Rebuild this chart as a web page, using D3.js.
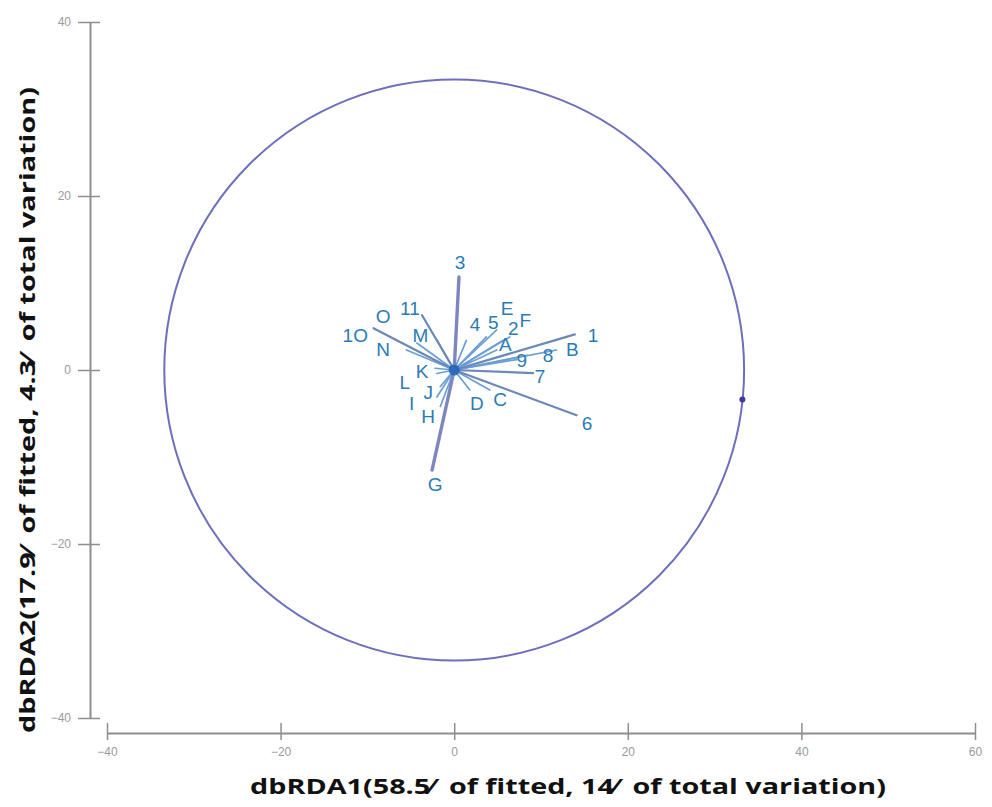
<!DOCTYPE html>
<html>
<head>
<meta charset="utf-8">
<script src="https://cdn.jsdelivr.net/npm/d3@7"></script>
<style>
  html, body { margin: 0; padding: 0; background: #ffffff; }
  svg { display: block; }
  .ttl { white-space: pre; }
</style>
</head>
<body>
<svg id="chart" width="992" height="807"></svg>
<script>
// ---- data ----
const xTicks = [-40, -20, 0, 20, 40, 60];
const yTicks = [-40, -20, 0, 20, 40];
const xTitle = "dbRDA1(58.5\u2044  of fitted, 14\u2044  of total variation)";
const yTitle = "dbRDA2(17.9\u2044  of fitted, 4.3\u2044  of total variation)";

// correlation circle radius (data units) and a marker point on it
const circleRadius = 33.4;
const circleMark = [33.2, -3.4];

// biplot vectors: name, end point (data units), label anchor (data units)
const vecNames = ["3", "G", "6", "7", "1", "1O", "11", "B", "8", "9", "A", "F", "2", "E", "5", "4",
                  "M", "O", "N", "K", "L", "J", "I", "H", "D", "C"];
const vecEndX  = [0.55, -2.55, 14.1, 9.1, 13.9, -9.3, -3.7, 11.8, 8.4, 7.2, 4.9, 6.4, 5.6, 4.9, 3.7, 1.4,
                  -2.0, -4.3, -5.5, -2.2, -2.0, -1.6, -2.0, -1.6, 1.8, 4.1];
const vecEndY  = [10.7, -11.5, -5.2, -0.35, 4.1, 4.8, 6.3, 2.3, 1.7, 1.2, 2.3, 3.8, 3.4, 4.6, 3.8, 3.4,
                  3.5, 3.1, 2.3, 0.2, -0.4, -1.9, -3.1, -4.2, -2.3, -2.3];
const labelX   = [0.67, -2.2, 15.3, 9.9, 16.0, -11.4, -5.1, 13.6, 10.8, 7.8, 5.9, 8.2, 6.8, 6.1, 4.5, 2.4,
                  -3.9, -8.2, -8.2, -3.7, -5.7, -3.0, -4.9, -3.0, 2.6, 5.3];
const labelY   = [12.4, -13.2, -6.1, -0.8, 4.0, 4.0, 7.1, 2.3, 1.7, 1.1, 2.9, 5.7, 4.8, 7.1, 5.5, 5.2,
                  4.0, 6.2, 2.3, -0.2, -1.4, -2.6, -3.8, -5.4, -3.8, -3.4];
// line style group per vector: 0 = heavy, 1 = medium, 2 = light
const vecStyle = [0, 0, 1, 1, 1, 1, 1, 2, 2, 2, 2, 2, 2, 2, 2, 2,
                  2, 2, 2, 2, 2, 2, 2, 2, 2, 2];

// ---- drawing ----
const svg = d3.select("#chart");
const x = d3.scaleLinear().domain([-40, 60]).range([107, 975]);
const y = d3.scaleLinear().domain([-40, 40]).range([718, 22]);

const axisColor = "#8e8e8e";
const tickText = "#9a9a9a";

// Y axis
const yAxisG = svg.append("g").attr("transform", "translate(90,0)")
  .call(d3.axisLeft(y).tickValues(yTicks).tickSizeOuter(0).tickSizeInner(0).tickPadding(19));
yAxisG.select(".domain").attr("stroke", axisColor).attr("stroke-width", 2);
yAxisG.selectAll(".tick line").attr("x1", -12).attr("x2", 10)
  .attr("stroke", axisColor).attr("stroke-width", 1.5);
yAxisG.selectAll(".tick text").attr("fill", tickText)
  .style("font-family", "'Liberation Sans', Arial, sans-serif").style("font-size", "12px");

// X axis
const xAxisG = svg.append("g").attr("transform", "translate(0,733)")
  .call(d3.axisBottom(x).tickValues(xTicks).tickSizeOuter(0).tickSizeInner(0).tickPadding(14));
xAxisG.select(".domain").attr("stroke", axisColor).attr("stroke-width", 2);
xAxisG.selectAll(".tick line").attr("y1", -10).attr("y2", 7)
  .attr("stroke", axisColor).attr("stroke-width", 1.5);
xAxisG.selectAll(".tick text").attr("fill", tickText)
  .style("font-family", "'Liberation Sans', Arial, sans-serif").style("font-size", "12px");

// circle
svg.append("ellipse")
  .attr("cx", x(0)).attr("cy", y(0))
  .attr("rx", x(circleRadius) - x(0))
  .attr("ry", y(0) - y(circleRadius))
  .attr("fill", "none").attr("stroke", "#6e6ebe").attr("stroke-width", 2);
svg.append("circle")
  .attr("cx", x(circleMark[0])).attr("cy", y(circleMark[1]))
  .attr("r", 3).attr("fill", "#3a3a9a");

// vectors
const vecs = vecNames.map((n, i) => ({
  name: n, ex: vecEndX[i], ey: vecEndY[i], lx: labelX[i], ly: labelY[i], s: vecStyle[i]
}));
const lineColor = ["#7e86c2", "#6b88b8", "#6a9fd6"];
const lineWidth = [3.4, 2.2, 1.7];
// draw light first, heavy on top
svg.append("g").selectAll("line")
  .data(vecs.slice().sort((a, b) => b.s - a.s))
  .join("line")
  .attr("x1", x(0)).attr("y1", y(0))
  .attr("x2", d => x(d.ex)).attr("y2", d => y(d.ey))
  .attr("stroke", d => lineColor[d.s])
  .attr("stroke-width", d => lineWidth[d.s])
  .attr("stroke-linecap", "round");

// central blob
svg.append("circle").attr("cx", x(0)).attr("cy", y(0)).attr("r", 5.5).attr("fill", "#2466b8").attr("opacity", 0.9);

svg.append("g").selectAll("text")
  .data(vecs)
  .join("text")
  .attr("x", d => x(d.lx)).attr("y", d => y(d.ly))
  .attr("text-anchor", "middle").attr("dominant-baseline", "central")
  .attr("fill", "#2a7cb5")
  .style("font-family", "'Liberation Sans', Arial, sans-serif")
  .style("font-size", "19px")
  .text(d => d.name);

// titles
svg.append("text")
  .attr("class", "ttl")
  .attr("xml:space", "preserve")
  .attr("x", 568).attr("y", 794)
  .attr("text-anchor", "middle")
  .attr("textLength", 636).attr("lengthAdjust", "spacingAndGlyphs")
  .style("font-family", "'Open Sans', Lato, sans-serif").style("font-weight", "bold")
  .style("font-size", "21px").attr("fill", "#111")
  .text(xTitle);

svg.append("text")
  .attr("class", "ttl")
  .attr("xml:space", "preserve")
  .attr("transform", "translate(35,410) rotate(-90)")
  .attr("text-anchor", "middle")
  .attr("textLength", 646).attr("lengthAdjust", "spacingAndGlyphs")
  .style("font-family", "'Open Sans', Lato, sans-serif").style("font-weight", "bold")
  .style("font-size", "21px").attr("fill", "#111")
  .text(yTitle);
</script>
</body>
</html>
